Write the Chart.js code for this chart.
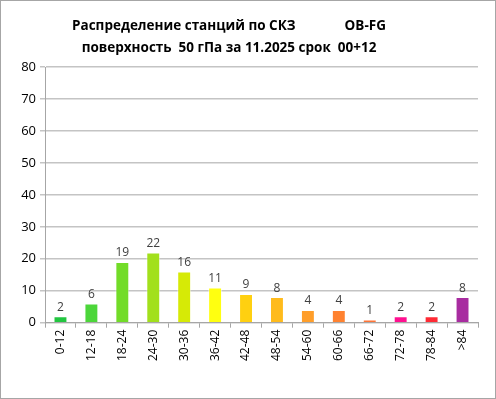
<!DOCTYPE html>
<html>
<head>
<meta charset="utf-8">
<script src="https://cdn.jsdelivr.net/npm/chart.js@4"></script>
<style>
  html, body { margin: 0; padding: 0; background: #fff; }
  #box { position: relative; width: 494px; height: 397px; border: 1px solid #a6a6a6; }
  #title { position: absolute; left: 0; top: 13px; width: 456px; text-align: center;
           font: bold 13.5px "Open Sans", sans-serif; color: #000; line-height: 22px; white-space: pre; }
  canvas { position: absolute; left: 0; top: 0; }
</style>
</head>
<body>
<div id="box">
  <canvas id="grafik" width="494" height="397"></canvas>
  <div id="title">Распределение станций по СКЗ              OB-FG
поверхность  50 гПа за 11.2025 срок  00+12</div>
</div>
<script>
// категории (СКЗ) и число станций
const kategori = ['0-12', '12-18', '18-24', '24-30', '30-36', '36-42', '42-48',
                  '48-54', '54-60', '60-66', '66-72', '72-78', '78-84', '>84']
const jumlah = [2, 6, 19, 22, 16, 11, 9, 8, 4, 4, 1, 2, 2, 8]
const warna = ['#22c640', '#4cd63a', '#72dc28', '#a2e01c', '#d6ea06', '#ffff10', '#ffd010',
               '#ffbb1c', '#ff9e2a', '#ff8230', '#ff7436', '#ff1090', '#ff2a34', '#a82ca0']
const yTicks = [0, 10, 20, 30, 40, 50, 60, 70, 80]

// label angka di atas batang
const labelAngka = {
    id: 'labelAngka',
    afterDatasetsDraw(chart) {
        const ctx = chart.ctx
        const meta = chart.getDatasetMeta(0)
        ctx.save()
        ctx.font = '12px "Open Sans", sans-serif'
        ctx.fillStyle = '#404040'
        ctx.textAlign = 'center'
        ctx.textBaseline = 'bottom'
        meta.data.forEach((bar, i) => {
            ctx.fillText(jumlah[i], bar.x, bar.y - 3)
        })
        ctx.restore()
    }
}

const ctx = document.getElementById('grafik').getContext('2d')
const grafik = new Chart(ctx, {
    type: 'bar',
    data: {
        labels: kategori,
        datasets: [{
            data: jumlah,
            backgroundColor: warna,
            borderColor: 'rgba(255,255,255,0.5)',
            borderWidth: 1,
            barPercentage: 0.45,
            categoryPercentage: 1
        }]
    },
    options: {
        responsive: false,
        animation: false,
        devicePixelRatio: 1,
        layout: { padding: { top: 66, right: 17, bottom: 35, left: 0 } },
        plugins: {
            legend: { display: false },
            title: { display: false },
            tooltip: { enabled: false }
        },
        scales: {
            x: {
                grid: { display: true, drawOnChartArea: false, offset: true, tickLength: 5, color: '#a6a6a6' },
                border: { color: '#a6a6a6', width: 1 },
                ticks: {
                    minRotation: 90, maxRotation: 90, color: '#000',
                    font: { family: '"Open Sans", sans-serif', size: 12 }, padding: 2
                }
            },
            y: {
                min: 0, max: 80,
                afterBuildTicks: (ax) => { ax.ticks = yTicks.map(v => ({ value: v })) },
                afterFit: (ax) => { ax.width = 44 },
                grid: { color: '#c4c4c4', lineWidth: 1.5, tickLength: 5 },
                border: { color: '#a6a6a6', width: 1 },
                ticks: {
                    color: '#000', padding: 4,
                    font: { family: '"Open Sans", sans-serif', size: 13 }
                }
            }
        }
    },
    plugins: [labelAngka]
})
</script>
</body>
</html>
